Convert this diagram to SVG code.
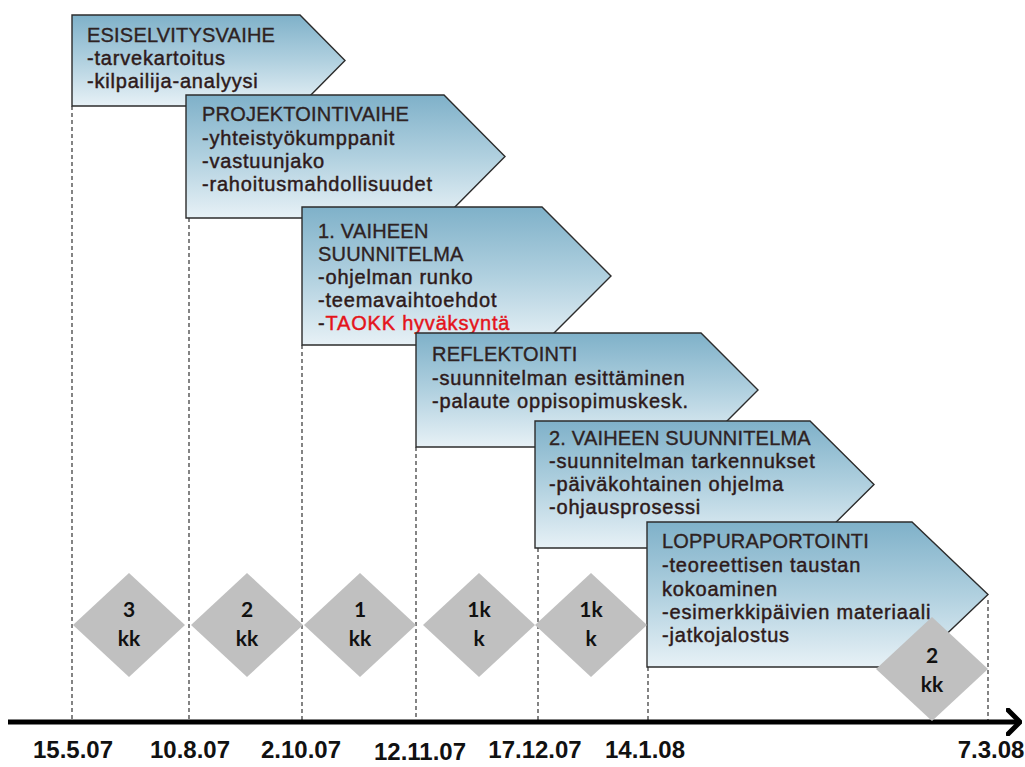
<svg xmlns="http://www.w3.org/2000/svg" width="1025" height="767" viewBox="0 0 1025 767">
  <defs>
    <linearGradient id="phaseFill" x1="0" y1="0" x2="0" y2="1">
      <stop offset="0" stop-color="#7fb1c9"/>
      <stop offset="0.5" stop-color="#b0d0df"/>
      <stop offset="1" stop-color="#e7f1f6"/>
    </linearGradient>
    <marker id="openArrow" viewBox="0 0 16 28" refX="14" refY="14" markerWidth="16" markerHeight="28" markerUnits="userSpaceOnUse" orient="auto">
      <path d="M2,2 L14,14 L2,26" fill="none" stroke="#000" stroke-width="5" stroke-linecap="round" stroke-linejoin="round"/>
    </marker>
  </defs>
  <style>
    .phase { fill: url(#phaseFill); stroke: #2c2c2c; stroke-width: 1.4; }
    .ttl { font-family: "Liberation Sans", Arial, sans-serif; font-size: 20px; fill: #2e2222; stroke: #2e2222; stroke-width: 0.35; letter-spacing: 0.2px; }
    .sub { font-family: "Liberation Sans", Arial, sans-serif; font-size: 20px; fill: #2e1a1a; stroke: #2e1a1a; stroke-width: 0.45; letter-spacing: 0.8px; }
    .red { fill: #e4141b; stroke: #e4141b; }
    .dash { stroke: #333; stroke-width: 1.2; stroke-dasharray: 4 3; fill: none; }
    .axis { stroke: #000; stroke-width: 5; fill: none; }
    .dia { fill: #c0c0c0; }
    .dtxt { font-family: "Lato", "Liberation Sans", sans-serif; font-weight: bold; font-size: 21px; fill: #111; text-anchor: middle; }
    .date { font-family: "Liberation Sans", Arial, sans-serif; font-weight: bold; font-size: 24px; fill: #111; text-anchor: middle; }
  </style>

  <rect width="1025" height="767" fill="#fff"/>

  <!-- dashed guide lines and the time axis -->
  <g id="connectors">
    <line class="dash" x1="72" y1="106" x2="72" y2="720"/>
    <line class="dash" x1="189" y1="218" x2="189" y2="720"/>
    <line class="dash" x1="302" y1="345" x2="302" y2="720"/>
    <line class="dash" x1="416" y1="447" x2="416" y2="720"/>
    <line class="dash" x1="538" y1="548" x2="538" y2="720"/>
    <line class="dash" x1="648" y1="667" x2="648" y2="720"/>
    <line class="dash" x1="988" y1="600" x2="988" y2="720"/>
    <line class="axis" x1="8" y1="722" x2="1020" y2="722" marker-end="url(#openArrow)"/>
  </g>

  <!-- phases -->
  <g id="phase-esiselvitys">
    <path class="phase" d="M72,15 H300 L345,60.5 L300,106 H72 Z"/>
    <text class="ttl" x="87" y="42">ESISELVITYSVAIHE</text>
    <text class="sub" x="87" y="65">-tarvekartoitus</text>
    <text class="sub" x="87" y="88">-kilpailija-analyysi</text>
  </g>

  <g id="phase-projektointi">
    <path class="phase" d="M186,95 H444 L505,156.5 L444,218 H186 Z"/>
    <text class="ttl" x="202" y="121">PROJEKTOINTIVAIHE</text>
    <text class="sub" x="202" y="145">-yhteistyökumppanit</text>
    <text class="sub" x="202" y="168">-vastuunjako</text>
    <text class="sub" x="202" y="191">-rahoitusmahdollisuudet</text>
  </g>

  <g id="phase-vaihe1">
    <path class="phase" d="M302,207 H542 L611,276 L542,345 H302 Z"/>
    <text class="ttl" x="318" y="238">1. VAIHEEN</text>
    <text class="ttl" x="318" y="261">SUUNNITELMA</text>
    <text class="sub" x="318" y="284">-ohjelman runko</text>
    <text class="sub" x="318" y="307">-teemavaihtoehdot</text>
    <text class="sub" x="318" y="330">-<tspan class="red">TAOKK hyväksyntä</tspan></text>
  </g>

  <g id="phase-reflektointi">
    <path class="phase" d="M416,333 H701 L758,390 L701,447 H416 Z"/>
    <text class="ttl" x="432" y="361">REFLEKTOINTI</text>
    <text class="sub" x="432" y="385">-suunnitelman esittäminen</text>
    <text class="sub" x="432" y="408">-palaute oppisopimuskesk.</text>
  </g>

  <g id="phase-vaihe2">
    <path class="phase" d="M535,421 H810 L874,484.5 L810,548 H535 Z"/>
    <text class="ttl" x="549" y="445">2. VAIHEEN SUUNNITELMA</text>
    <text class="sub" x="549" y="468">-suunnitelman tarkennukset</text>
    <text class="sub" x="549" y="491">-päiväkohtainen ohjelma</text>
    <text class="sub" x="549" y="514">-ohjausprosessi</text>
  </g>

  <g id="phase-loppuraportointi">
    <path class="phase" d="M647,522 H912 L988,594.5 L912,667 H647 Z"/>
    <text class="ttl" x="662" y="548">LOPPURAPORTOINTI</text>
    <text class="sub" x="662" y="572">-teoreettisen taustan</text>
    <text class="sub" x="662" y="596">kokoaminen</text>
    <text class="sub" x="662" y="619">-esimerkkipäivien materiaali</text>
    <text class="sub" x="662" y="642">-jatkojalostus</text>
  </g>

  <!-- durations -->
  <g id="dur-1">
    <path class="dia" d="M129,573 L185,625 L129,677 L73,625 Z"/>
    <text class="dtxt" x="129" y="617">3</text>
    <text class="dtxt" x="129" y="646">kk</text>
  </g>
  <g id="dur-2">
    <path class="dia" d="M247,573 L303,625 L247,677 L191,625 Z"/>
    <text class="dtxt" x="247" y="617">2</text>
    <text class="dtxt" x="247" y="646">kk</text>
  </g>
  <g id="dur-3">
    <path class="dia" d="M360,573 L416,625 L360,677 L304,625 Z"/>
    <text class="dtxt" x="360" y="617">1</text>
    <text class="dtxt" x="360" y="646">kk</text>
  </g>
  <g id="dur-4">
    <path class="dia" d="M479,573 L535,625 L479,677 L423,625 Z"/>
    <text class="dtxt" x="479" y="617">1k</text>
    <text class="dtxt" x="479" y="646">k</text>
  </g>
  <g id="dur-5">
    <path class="dia" d="M591,573 L647,625 L591,677 L535,625 Z"/>
    <text class="dtxt" x="591" y="617">1k</text>
    <text class="dtxt" x="591" y="646">k</text>
  </g>
  <g id="dur-6">
    <path class="dia" d="M932,617 L988,669 L932,721 L876,669 Z"/>
    <text class="dtxt" x="932" y="663">2</text>
    <text class="dtxt" x="932" y="692">kk</text>
  </g>

  <!-- dates -->
  <g id="dates">
    <text class="date" x="73" y="758">15.5.07</text>
    <text class="date" x="190" y="758">10.8.07</text>
    <text class="date" x="301" y="758">2.10.07</text>
    <text class="date" x="420" y="760">12.11.07</text>
    <text class="date" x="535" y="758">17.12.07</text>
    <text class="date" x="645" y="758">14.1.08</text>
    <text class="date" x="991" y="758">7.3.08</text>
  </g>
</svg>
